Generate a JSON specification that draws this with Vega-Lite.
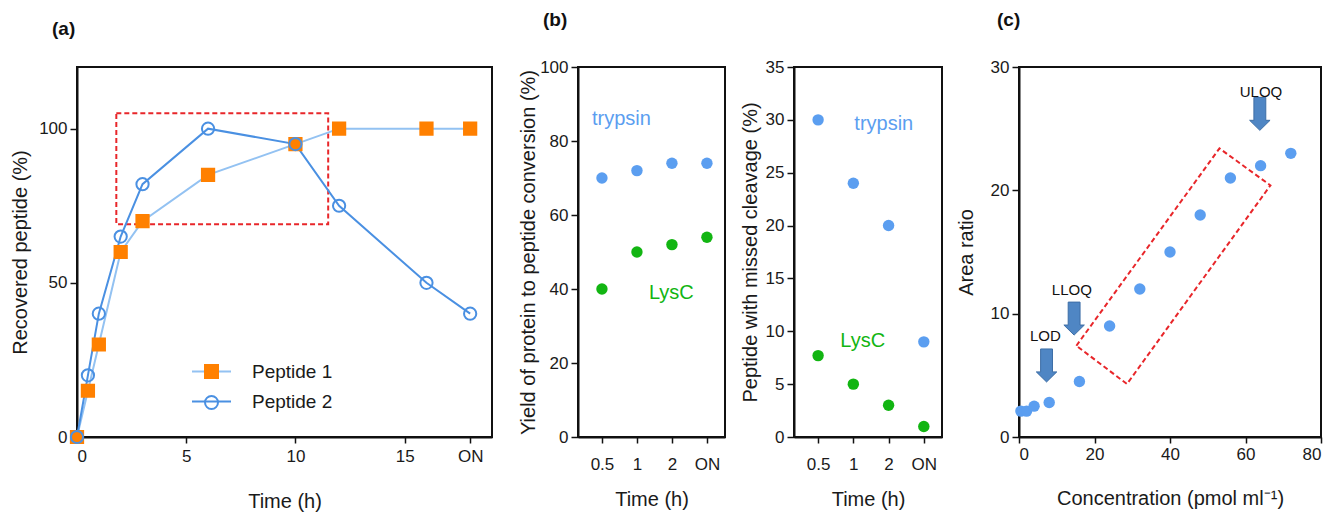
{
  "$schema": "https://vega.github.io/schema/vega-lite/v6.json",
  "padding": {"left": 9, "top": 10, "right": 2, "bottom": 2},
  "config": {
    "font": "Liberation Sans",
    "view": {"stroke": "#111111", "strokeWidth": 2},
    "axis": {"grid": false, "domainColor": "#111111", "domainWidth": 2, "tickColor": "#111111", "tickWidth": 1.5, "tickSize": 7, "labelFontSize": 17, "labelColor": "#1a1a1a", "titleFontSize": 20, "titleFontWeight": "normal", "titleColor": "#1a1a1a", "labelPadding": 3},
    "axisX": {"tickSize": 6, "labelPadding": 5, "titlePadding": 27, "labelAngle": 0},
    "title": {"fontSize": 19, "fontWeight": "bold", "anchor": "start", "frame": "group", "offset": 28, "color": "#111111"},
    "legend": {"padding": 0, "labelFontSize": 19, "labelColor": "#1a1a1a"}
  },
  "datasets": {
    "kinetics": [
      {"series": "Peptide 1", "time": 0, "value": 0},
      {"series": "Peptide 1", "time": 0.5, "value": 15},
      {"series": "Peptide 1", "time": 1, "value": 30},
      {"series": "Peptide 1", "time": 2, "value": 60},
      {"series": "Peptide 1", "time": 3, "value": 70},
      {"series": "Peptide 1", "time": 6, "value": 85},
      {"series": "Peptide 1", "time": 10, "value": 95},
      {"series": "Peptide 1", "time": 12, "value": 100},
      {"series": "Peptide 1", "time": 16, "value": 100},
      {"series": "Peptide 1", "time": 18, "value": 100},
      {"series": "Peptide 2", "time": 0, "value": 0},
      {"series": "Peptide 2", "time": 0.5, "value": 20},
      {"series": "Peptide 2", "time": 1, "value": 40},
      {"series": "Peptide 2", "time": 2, "value": 65},
      {"series": "Peptide 2", "time": 3, "value": 82},
      {"series": "Peptide 2", "time": 6, "value": 100},
      {"series": "Peptide 2", "time": 10, "value": 95},
      {"series": "Peptide 2", "time": 12, "value": 75},
      {"series": "Peptide 2", "time": 16, "value": 50},
      {"series": "Peptide 2", "time": 18, "value": 40}
    ],
    "box_a": [{"time": 1.8, "time2": 11.5, "value": 69, "value2": 105}],
    "yield": [
      {"enzyme": "trypsin", "time": "0.5", "value": 70},
      {"enzyme": "trypsin", "time": "1", "value": 72},
      {"enzyme": "trypsin", "time": "2", "value": 74},
      {"enzyme": "trypsin", "time": "ON", "value": 74},
      {"enzyme": "LysC", "time": "0.5", "value": 40},
      {"enzyme": "LysC", "time": "1", "value": 50},
      {"enzyme": "LysC", "time": "2", "value": 52},
      {"enzyme": "LysC", "time": "ON", "value": 54}
    ],
    "missed": [
      {"enzyme": "trypsin", "time": "0.5", "value": 30},
      {"enzyme": "trypsin", "time": "1", "value": 24},
      {"enzyme": "trypsin", "time": "2", "value": 20},
      {"enzyme": "trypsin", "time": "ON", "value": 9},
      {"enzyme": "LysC", "time": "0.5", "value": 7.7},
      {"enzyme": "LysC", "time": "1", "value": 5},
      {"enzyme": "LysC", "time": "2", "value": 3},
      {"enzyme": "LysC", "time": "ON", "value": 1}
    ],
    "labels_b1": [
      {"enzyme": "trypsin", "time": "0.5", "value": 86},
      {"enzyme": "LysC", "time": "1", "value": 39}
    ],
    "labels_b2": [
      {"enzyme": "trypsin", "time": "1", "value": 29.6},
      {"enzyme": "LysC", "time": "1", "value": 9.1}
    ],
    "calib": [
      {"conc": 0.5, "ratio": 2.1},
      {"conc": 2, "ratio": 2.1},
      {"conc": 4, "ratio": 2.5},
      {"conc": 8, "ratio": 2.8},
      {"conc": 16, "ratio": 4.5},
      {"conc": 24, "ratio": 9},
      {"conc": 32, "ratio": 12},
      {"conc": 40, "ratio": 15},
      {"conc": 48, "ratio": 18},
      {"conc": 56, "ratio": 21},
      {"conc": 64, "ratio": 22},
      {"conc": 72, "ratio": 23}
    ],
    "box_c": [
      {"corner": 1, "conc": 15.2, "ratio": 7.4},
      {"corner": 2, "conc": 53.1, "ratio": 23.4},
      {"corner": 3, "conc": 66.6, "ratio": 20.4},
      {"corner": 4, "conc": 28.6, "ratio": 4.3},
      {"corner": 5, "conc": 15.2, "ratio": 7.4}
    ],
    "arrows": [
      {"label": "LOD", "conc": 7.3, "ratio": 5.8},
      {"label": "LLOQ", "conc": 14.6, "ratio": 9.6},
      {"label": "ULOQ", "conc": 63.8, "ratio": 26.2}
    ],
    "arrow_labels": [
      {"label": "LOD", "conc": 7.0, "ratio": 8.2},
      {"label": "LLOQ", "conc": 14.0, "ratio": 11.9},
      {"label": "ULOQ", "conc": 64.1, "ratio": 28.0}
    ]
  },
  "hconcat": [
    {
      "hconcat": [
        {
          "width": 415,
          "height": 370,
          "title": {"text": "(a)", "dx": -25},
          "encoding": {
            "x": {"field": "time", "type": "quantitative", "scale": {"domain": [0, 19], "nice": false, "zero": false},
                  "axis": {"title": "Time (h)", "values": [0, 5, 10, 15, 18], "labelExpr": "datum.value == 18 ? 'ON' : datum.label"}},
            "y": {"field": "value", "type": "quantitative", "scale": {"domain": [0, 120], "nice": false},
                  "axis": {"title": "Recovered peptide (%)", "values": [0, 50, 100], "titlePadding": 8}}
          },
          "layer": [
            {
              "data": {"name": "box_a"},
              "mark": {"type": "rect", "filled": false, "stroke": "#e8262a", "strokeWidth": 2, "strokeDash": [5, 3]},
              "encoding": {"x2": {"field": "time2"}, "y2": {"field": "value2"}}
            },
            {
              "data": {"name": "kinetics"},
              "mark": {"type": "line", "strokeWidth": 2},
              "encoding": {
                "color": {"field": "series", "type": "nominal",
                          "scale": {"domain": ["Peptide 1", "Peptide 2"], "range": ["#93c2f2", "#4a90e2"]},
                          "legend": {"orient": "none", "legendX": 125, "legendY": 295, "title": null, "symbolType": "M-3,0H3", "symbolSize": 169, "symbolStrokeWidth": 2, "labelOffset": 31, "rowPadding": 10}}
              }
            },
            {
              "data": {"name": "kinetics"},
              "mark": {"type": "point", "size": 150, "strokeWidth": 2, "opacity": 1},
              "encoding": {
                "shape": {"field": "series", "type": "nominal", "scale": {"range": ["square", "circle"]},
                          "legend": {"orient": "none", "legendX": 125, "legendY": 295, "title": null, "symbolSize": 169, "symbolStrokeWidth": 2, "labelOpacity": 0, "labelOffset": 31, "rowPadding": 10, "symbolOpacity": 1}},
                "fill": {"field": "series", "type": "nominal", "scale": {"range": ["#ff8000", "transparent"]},
                         "legend": {"orient": "none", "legendX": 125, "legendY": 295, "title": null, "symbolSize": 169, "symbolStrokeWidth": 2, "labelOpacity": 0, "labelOffset": 31, "rowPadding": 10, "symbolOpacity": 1}},
                "stroke": {"field": "series", "type": "nominal", "scale": {"range": ["#ff8000", "#4a90e2"]},
                           "legend": {"orient": "none", "legendX": 125, "legendY": 295, "title": null, "symbolSize": 169, "symbolStrokeWidth": 2, "labelOpacity": 0, "labelOffset": 31, "rowPadding": 10, "symbolOpacity": 1}}
              }
            }
          ]
        },
        {
          "width": 147,
          "height": 370,
          "title": {"text": "(b)", "dx": -35},
          "encoding": {
            "x": {"field": "time", "type": "ordinal", "scale": {"type": "point", "domain": ["0.5", "1", "2", "ON"], "padding": 0.6, "align": 0.57},
                  "axis": {"title": "Time (h)", "labelPadding": 13, "titlePadding": 17}},
            "y": {"field": "value", "type": "quantitative", "scale": {"domain": [0, 100], "nice": false},
                  "axis": {"title": "Yield of protein to peptide conversion (%)", "values": [0, 20, 40, 60, 80, 100], "titlePadding": 1}}
          },
          "layer": [
            {
              "data": {"name": "yield"},
              "mark": {"type": "circle", "size": 130, "opacity": 1},
              "encoding": {"color": {"field": "enzyme", "type": "nominal", "scale": {"domain": ["trypsin", "LysC"], "range": ["#5b9ef0", "#12b512"]}, "legend": null}}
            },
            {
              "data": {"name": "labels_b1"},
              "transform": [{"filter": "datum.enzyme == 'trypsin'"}],
              "mark": {"type": "text", "align": "left", "baseline": "middle", "fontSize": 20, "dx": -10},
              "encoding": {"text": {"field": "enzyme"}, "color": {"field": "enzyme", "type": "nominal", "legend": null}}
            },
            {
              "data": {"name": "labels_b1"},
              "transform": [{"filter": "datum.enzyme == 'LysC'"}],
              "mark": {"type": "text", "align": "left", "baseline": "middle", "fontSize": 20, "dx": 12},
              "encoding": {"text": {"field": "enzyme"}, "color": {"field": "enzyme", "type": "nominal", "legend": null}}
            }
          ]
        }
      ],
      "spacing": 24,
      "resolve": {"scale": {"color": "independent", "fill": "independent", "stroke": "independent", "shape": "independent"}}
    },
    {
      "hconcat": [
        {
          "width": 148,
          "height": 370,
          "encoding": {
            "x": {"field": "time", "type": "ordinal", "scale": {"type": "point", "domain": ["0.5", "1", "2", "ON"], "padding": 0.6, "align": 0.57},
                  "axis": {"title": "Time (h)", "labelPadding": 13, "titlePadding": 17}},
            "y": {"field": "value", "type": "quantitative", "scale": {"domain": [0, 35], "nice": false},
                  "axis": {"title": "Peptide with missed cleavage (%)", "values": [0, 5, 10, 15, 20, 25, 30, 35], "titlePadding": 5}}
          },
          "layer": [
            {
              "data": {"name": "missed"},
              "mark": {"type": "circle", "size": 130, "opacity": 1},
              "encoding": {"color": {"field": "enzyme", "type": "nominal", "scale": {"domain": ["trypsin", "LysC"], "range": ["#5b9ef0", "#12b512"]}, "legend": null}}
            },
            {
              "data": {"name": "labels_b2"},
              "transform": [{"filter": "datum.enzyme == 'trypsin'"}],
              "mark": {"type": "text", "align": "left", "baseline": "middle", "fontSize": 20, "dx": 1},
              "encoding": {"text": {"field": "enzyme"}, "color": {"field": "enzyme", "type": "nominal", "legend": null}}
            },
            {
              "data": {"name": "labels_b2"},
              "transform": [{"filter": "datum.enzyme == 'LysC'"}],
              "mark": {"type": "text", "align": "left", "baseline": "middle", "fontSize": 20, "dx": -13},
              "encoding": {"text": {"field": "enzyme"}, "color": {"field": "enzyme", "type": "nominal", "legend": null}}
            }
          ]
        },
        {
          "width": 302,
          "height": 370,
          "title": {"text": "(c)", "dx": -22},
          "encoding": {
            "x": {"field": "conc", "type": "quantitative", "scale": {"domain": [0, 80], "nice": false},
                  "axis": {"title": "Concentration (pmol ml⁻¹)", "values": [0, 20, 40, 60, 80], "labelPadding": 3, "titlePadding": 26}},
            "y": {"field": "ratio", "type": "quantitative", "scale": {"domain": [0, 30], "nice": false},
                  "axis": {"title": "Area ratio", "values": [0, 10, 20, 30], "titlePadding": 14}}
          },
          "layer": [
            {
              "data": {"name": "box_c"},
              "mark": {"type": "line", "stroke": "#e8262a", "strokeWidth": 2, "strokeDash": [5, 3]},
              "encoding": {"order": {"field": "corner", "type": "quantitative"}}
            },
            {
              "data": {"name": "arrows"},
              "mark": {"type": "point", "shape": "M-0.36,-1L0.36,-1L0.36,0.39L0.62,0.39L0,1L-0.62,0.39L-0.36,0.39Z", "size": 1089, "filled": true, "fill": "#4f86c4", "stroke": "#3d6ea6", "strokeWidth": 1, "opacity": 1},
              "encoding": {}
            },
            {
              "data": {"name": "arrow_labels"},
              "mark": {"type": "text", "fontSize": 15, "baseline": "middle", "color": "#111111"},
              "encoding": {"text": {"field": "label"}}
            },
            {
              "data": {"name": "calib"},
              "mark": {"type": "circle", "size": 130, "opacity": 1, "color": "#5b9ef0"},
              "encoding": {}
            }
          ]
        }
      ],
      "spacing": 12,
      "resolve": {"scale": {"color": "independent"}}
    }
  ],
  "spacing": 13,
  "resolve": {"scale": {"color": "independent", "fill": "independent", "stroke": "independent", "shape": "independent"}}
}
